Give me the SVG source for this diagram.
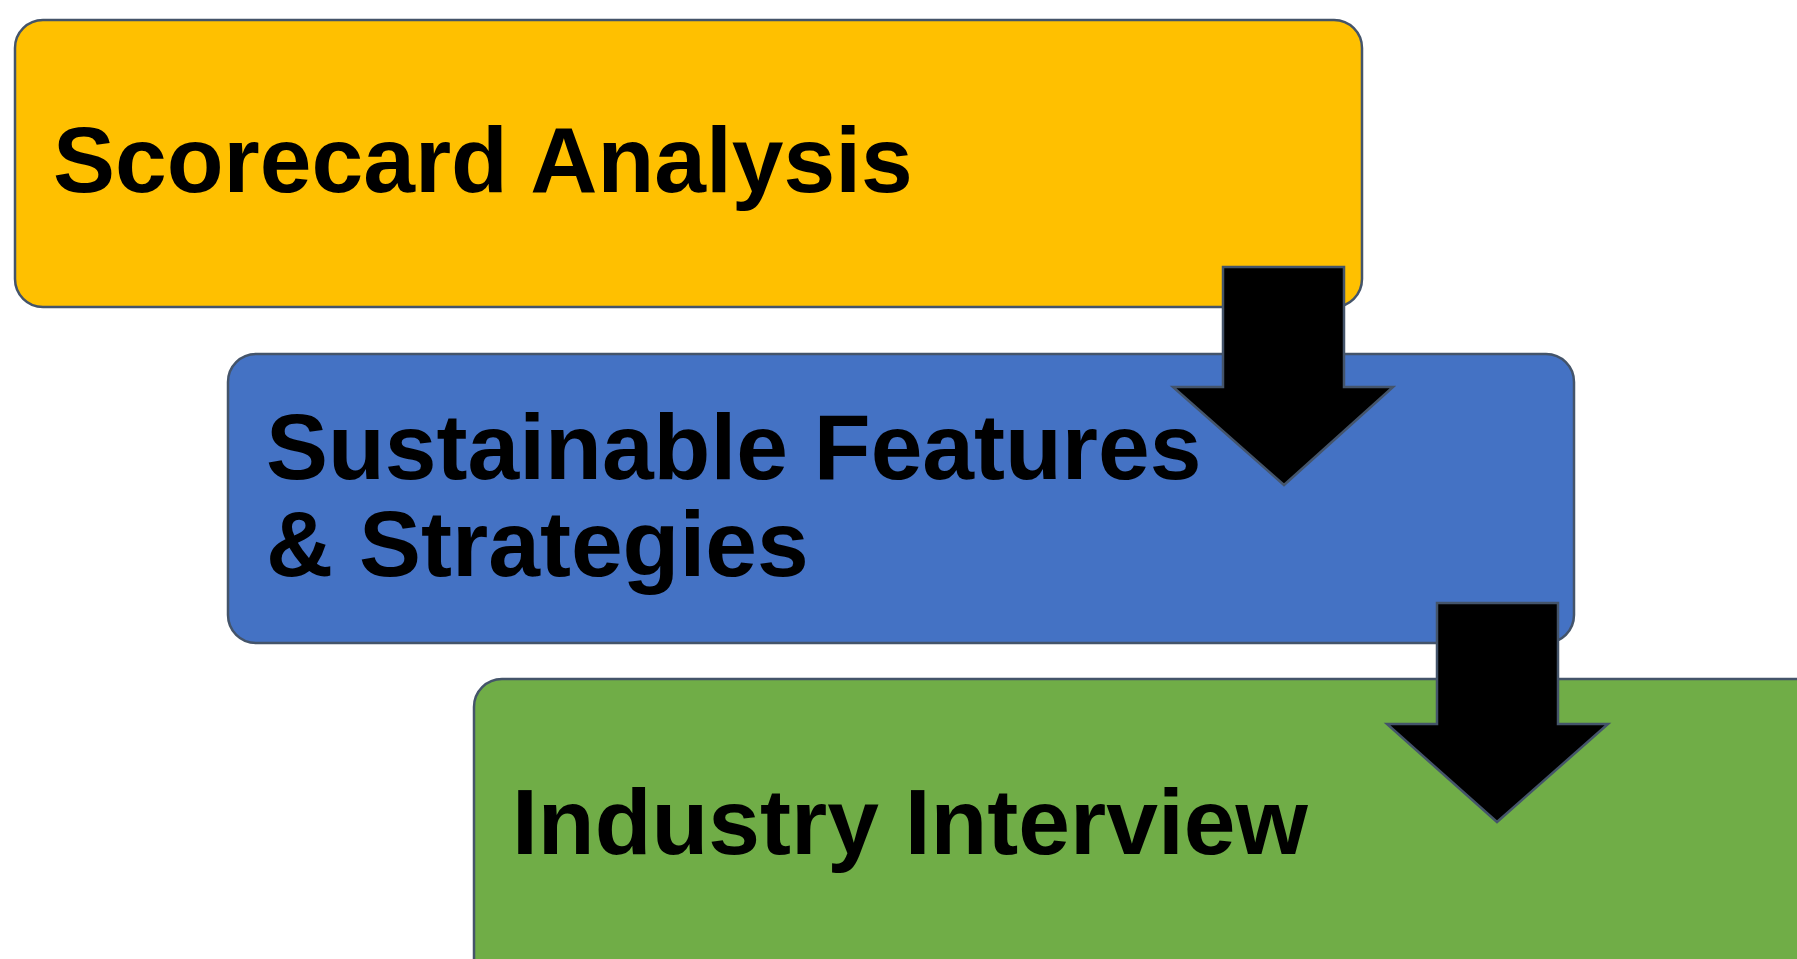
<svg xmlns="http://www.w3.org/2000/svg" width="1797" height="959" viewBox="0 0 1797 959">
<style>
.box{stroke:#44546A;stroke-width:2.5}
.lbl{font-family:"Liberation Sans",Arial,sans-serif;font-weight:bold;font-size:93px;fill:#000}
.arr{fill:#000;stroke:#44546A;stroke-width:2.5;stroke-linejoin:miter}
</style>
<rect width="1797" height="959" fill="#fff"/>
<g id="node-scorecard">
<rect class="box" x="15" y="20" width="1347" height="287" rx="28" fill="#FFC000"/>
<text class="lbl" x="53" y="192">Scorecard Analysis</text>
</g>
<g id="node-sustainable">
<rect class="box" x="228" y="354" width="1346" height="289" rx="28" fill="#4472C4"/>
<text class="lbl" x="266" y="479">Sustainable Features</text>
<text class="lbl" x="266" y="576">&amp; Strategies</text>
</g>
<g id="node-industry">
<rect class="box" x="474" y="679" width="1360" height="320" rx="28" fill="#70AD47"/>
<text class="lbl" x="512" y="854">Industry Interview</text>
</g>
<g id="connectors">
<polygon class="arr" points="1223,267 1344,267 1344,387 1393,387 1284,485 1173,387 1223,387"/>
<polygon class="arr" points="1437,603 1558,603 1558,724 1608,724 1497,822 1387,724 1437,724"/>
</g>
</svg>
